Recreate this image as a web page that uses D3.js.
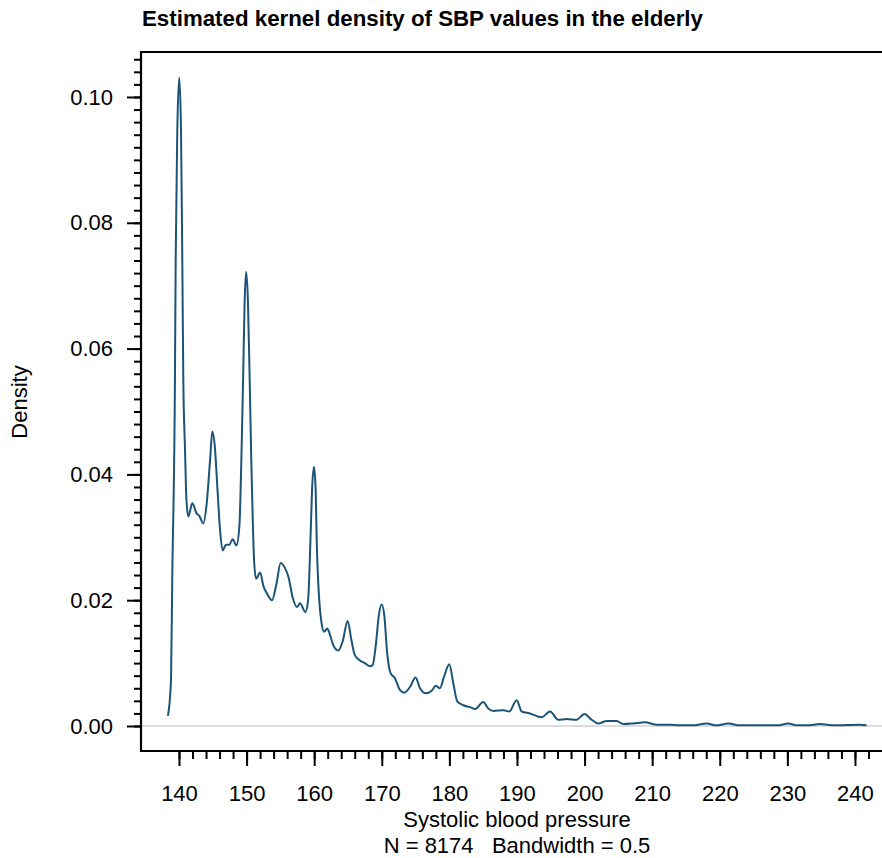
<!DOCTYPE html>
<html>
<head>
<meta charset="utf-8">
<script src="https://cdn.jsdelivr.net/npm/d3@7"></script>
<style>
  body { margin: 0; background: #fff; }
  text { font-family: "Liberation Sans", Arial, sans-serif; fill: #000; }
</style>
</head>
<body>
<script>
let w = 882;
let h = 858;

// values
let sbp = [138.37, 138.82, 139.0, 139.4, 139.51, 139.75, 140.04, 140.3, 140.49, 140.64, 140.89, 141.1, 141.38,
  141.97, 142.6, 143.0, 143.6, 144.1, 144.6, 144.93, 145.3, 145.7, 146.07, 146.46, 146.95, 147.45, 147.94,
  148.5, 148.93, 149.27, 149.5, 149.7, 149.93, 150.2, 150.45, 150.68, 150.9, 151.1, 151.4, 152.0, 152.5, 153.0,
  153.76, 154.4, 155.04, 155.68, 156.2, 156.8, 157.45, 157.9, 158.7, 159.1, 159.45, 159.68, 159.98, 160.22, 160.37,
  160.75, 161.1, 161.45, 161.94, 162.34, 162.8, 163.57, 164.2, 164.95, 165.5, 166.0, 166.67, 167.5, 168.25, 168.65,
  169.14, 169.54, 169.98, 170.37, 170.8, 171.3, 171.95, 172.7, 173.33, 174.17, 175.0, 175.65, 176.54, 177.38,
  178.0, 178.6, 179.2, 179.99, 180.58, 181.17, 182.06, 183.05, 183.8, 185.0, 185.75, 186.5, 188.0, 188.86,
  189.95, 190.7, 191.9, 193.65, 194.9, 196.1, 197.35, 198.8, 200.0, 201.05, 202.0, 203.3, 204.75, 205.7,
  207.2, 208.9, 210.7, 212.6, 214.1, 216.0, 218.06, 219.5, 221.26, 223.0, 226.0, 228.5, 230.13, 231.5,
  233.0, 234.8, 237.0, 240.7, 241.7];
let density = [0.0016, 0.0073, 0.0232, 0.055, 0.074, 0.0947, 0.1031, 0.0947, 0.074, 0.055, 0.044, 0.036, 0.0333,
  0.0354, 0.0338, 0.0334, 0.0322, 0.0354, 0.0423, 0.0468, 0.0444, 0.0375, 0.0312, 0.0279, 0.0288, 0.0288, 0.0297,
  0.0287, 0.0317, 0.0444, 0.056, 0.067, 0.0722, 0.0675, 0.0555, 0.043, 0.0333, 0.0265, 0.0234, 0.0244, 0.0222, 0.0211,
  0.0200, 0.0225, 0.0259, 0.0251, 0.0237, 0.0205, 0.0189, 0.0195, 0.0181, 0.0200, 0.0296, 0.0375, 0.0412, 0.0375, 0.0296,
  0.0200, 0.0163, 0.015, 0.0155, 0.0145, 0.0129, 0.012, 0.0134, 0.0167, 0.0137, 0.0113, 0.0105, 0.0100, 0.0095, 0.0097,
  0.0131, 0.0174, 0.0193, 0.0176, 0.0116, 0.0084, 0.0076, 0.0057, 0.0053, 0.0062, 0.0077, 0.006, 0.0052, 0.0056,
  0.0064, 0.006, 0.0078, 0.0098, 0.0068, 0.0039, 0.0033, 0.003, 0.0027, 0.0038, 0.0028, 0.0024, 0.0025, 0.0023,
  0.0041, 0.0023, 0.002, 0.0014, 0.0023, 0.001, 0.0011, 0.001, 0.0019, 0.001, 0.0004, 0.0008, 0.0008, 0.0003,
  0.0004, 0.0006, 0.0002, 0.0002, 0.0001, 0.0001, 0.0004, 0.0001, 0.0004, 0.0001, 0.0001, 0.0001, 0.0004, 0.0001,
  0.0001, 0.0003, 0.0001, 0.0002, 0.0001];

let xMajor = [140, 150, 160, 170, 180, 190, 200, 210, 220, 230, 240];
let yMajor = [0, 0.02, 0.04, 0.06, 0.08, 0.10];

let title = "Estimated kernel density of SBP values in the elderly";
let xTitle = "Systolic blood pressure";
let subTitle = "N = 8174   Bandwidth = 0.5";
let yTitle = "Density";

let plotLeft = 141, plotRight = 882, plotTop = 52, plotBottom = 751;

let x = d3.scaleLinear().domain([134.38, 244.0]).range([plotLeft, plotRight]);
let y = d3.scaleLinear().domain([-0.003975, 0.10715]).range([plotBottom, plotTop]);

let xMinor = d3.range(140, 244, 2);
let yMinor = d3.range(0, 0.107, 0.002);

let svg = d3.select("body").append("svg").attr("width", w).attr("height", h);

// zero reference line
svg.append("line")
  .attr("x1", plotLeft).attr("x2", plotRight)
  .attr("y1", y(0)).attr("y2", y(0))
  .attr("stroke", "#d0d0d0")
  .attr("stroke-width", 1.5);

// density curve
let line = d3.line()
  .x((d) => x(d[0]))
  .y((d) => y(d[1]))
  .curve(d3.curveMonotoneX);

svg.append("path")
  .datum(sbp.map((v, i) => [v, density[i]]))
  .attr("d", line)
  .attr("fill", "none")
  .attr("stroke", "#1c5478")
  .attr("stroke-width", 2);

// axes (minor then major)
let xAxisMinor = svg.append("g").attr("transform", `translate(0,${plotBottom})`)
  .call(d3.axisBottom(x).tickValues(xMinor).tickSize(8).tickFormat(""));
let xAxisMajor = svg.append("g").attr("transform", `translate(0,${plotBottom})`)
  .call(d3.axisBottom(x).tickValues(xMajor).tickSize(15).tickPadding(19).tickFormat(d3.format("d")));
let yAxisMinor = svg.append("g").attr("transform", `translate(${plotLeft},0)`)
  .call(d3.axisLeft(y).tickValues(yMinor).tickSize(7).tickFormat(""));
let yAxisMajor = svg.append("g").attr("transform", `translate(${plotLeft},0)`)
  .call(d3.axisLeft(y).tickValues(yMajor).tickSize(14).tickPadding(14).tickFormat(d3.format(".2f")));

[xAxisMinor, xAxisMajor, yAxisMinor, yAxisMajor].forEach((g) => {
  g.select(".domain").remove();
  g.selectAll(".tick line").attr("stroke", "#000").attr("stroke-width", 2);
  g.selectAll(".tick text").attr("font-size", 22).attr("font-family", "Liberation Sans, Arial, sans-serif").attr("fill", "#000");
});

// frame: left, top, bottom
svg.append("path")
  .attr("d", `M${plotRight + 5},${plotTop}H${plotLeft}V${plotBottom}H${plotRight + 5}`)
  .attr("fill", "none")
  .attr("stroke", "#000")
  .attr("stroke-width", 2.2);

svg.append("text")
  .attr("x", 142).attr("y", 26)
  .attr("font-size", 22.3)
  .attr("font-weight", "bold")
  .text(title);

svg.append("text")
  .attr("x", 517).attr("y", 827)
  .attr("text-anchor", "middle")
  .attr("font-size", 22)
  .text(xTitle);

svg.append("text")
  .attr("x", 517).attr("y", 853)
  .attr("text-anchor", "middle")
  .attr("font-size", 22)
  .attr("xml:space", "preserve")
  .style("white-space", "pre")
  .text(subTitle);

svg.append("text")
  .attr("transform", "translate(27,402) rotate(-90)")
  .attr("text-anchor", "middle")
  .attr("font-size", 22)
  .text(yTitle);
</script>
</body>
</html>
